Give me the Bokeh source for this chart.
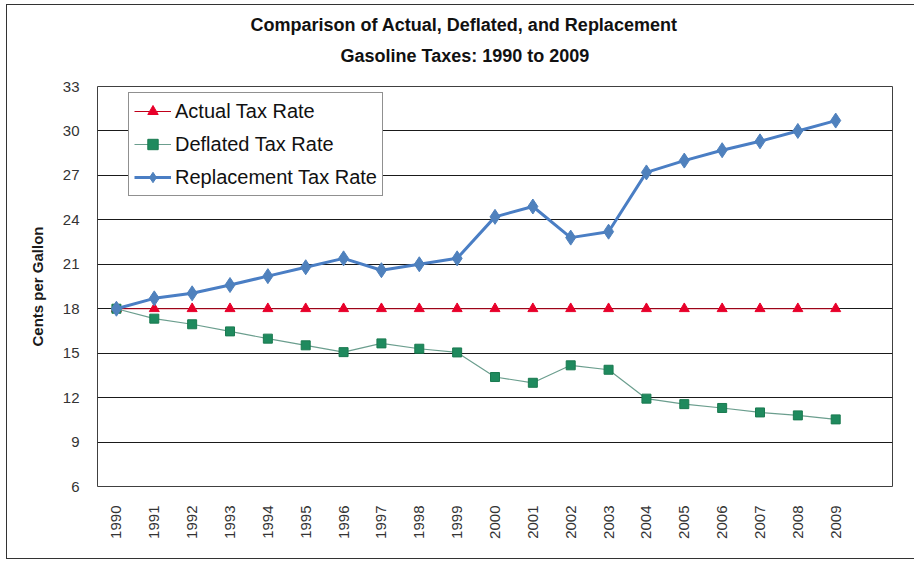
from bokeh.plotting import figure
from bokeh.models import Range1d, FixedTicker, Legend, Title
from bokeh.embed import file_html
from bokeh.resources import INLINE
from math import pi

years = ["1990", "1991", "1992", "1993", "1994", "1995", "1996", "1997", "1998", "1999",
         "2000", "2001", "2002", "2003", "2004", "2005", "2006", "2007", "2008", "2009"]
actual = [18.0] * 20
deflated = [18.0, 17.33, 16.95, 16.47, 15.98, 15.53, 15.07, 15.66, 15.3, 15.05,
            13.39, 13.0, 14.18, 13.88, 11.93, 11.56, 11.3, 11.0, 10.8, 10.53]
replacement = [18.0, 18.7, 19.04, 19.6, 20.2, 20.8, 21.4, 20.6, 21.0, 21.4,
               24.2, 24.9, 22.8, 23.2, 27.2, 28.0, 28.7, 29.3, 30.0, 30.7]
y_ticks = [6, 9, 12, 15, 18, 21, 24, 27, 30, 33]
title_lines = ["Comparison of Actual, Deflated, and Replacement", "Gasoline Taxes: 1990 to 2009"]

FONT = "Liberation Sans"
xs = list(range(len(years)))

p = figure(width=908, height=555, output_backend="svg", toolbar_location=None,
           x_range=Range1d(-0.5, 20.5), y_range=Range1d(6, 33),
           min_border_left=90, min_border_right=23, min_border_top=81, min_border_bottom=74)
p.styles = {"border-left": "1px solid #333333", "border-top": "1px solid #333333",
            "border-bottom": "1px solid #333333", "margin-left": "6px", "margin-top": "4px"}
p.outline_line_color = "#404040"
p.outline_line_width = 1
p.background_fill_color = "white"

p.xgrid.grid_line_color = None
p.ygrid.grid_line_color = "#1a1a1a"
p.ygrid.grid_line_width = 1
p.ygrid.ticker = FixedTicker(ticks=y_ticks)

p.yaxis.ticker = FixedTicker(ticks=y_ticks)
p.xaxis.ticker = FixedTicker(ticks=xs)
p.xaxis.major_label_overrides = {i: y for i, y in enumerate(years)}
p.xaxis.major_label_orientation = pi / 2
for ax in (p.xaxis, p.yaxis):
    ax.axis_line_color = None
    ax.major_tick_line_color = None
    ax.minor_tick_line_color = None
    ax.major_label_text_font = FONT
    ax.major_label_text_font_size = "15px"
    ax.major_label_text_color = "#333333"
p.xaxis.major_label_standoff = 13
p.yaxis.major_label_standoff = 12
p.yaxis.axis_label = "Cents per Gallon"
p.yaxis.axis_label_text_font = FONT
p.yaxis.axis_label_text_font_size = "15px"
p.yaxis.axis_label_text_font_style = "bold"
p.yaxis.axis_label_text_color = "#1a1a1a"
p.yaxis.axis_label_standoff = 14

r1 = p.line(xs, actual, line_color="#C0001A", line_width=1)
m1 = p.scatter(xs, actual, marker="triangle", size=10, fill_color="#E8002A", line_color="#E8002A")
r2 = p.line(xs, deflated, line_color="#6B9E8E", line_width=1.2)
m2 = p.scatter(xs, deflated, marker="square", size=9, fill_color="#1F8A5E", line_color="#1A7A50")
r3 = p.line(xs, replacement, line_color="#4A7EC4", line_width=3)
m3 = p.scatter(xs, replacement, marker="diamond", size=15, fill_color="#4F81BD", line_color="#4F81BD")

legend = Legend(items=[("Actual Tax Rate", [r1, m1]),
                       ("Deflated Tax Rate", [r2, m2]),
                       ("Replacement Tax Rate", [r3, m3])],
                location=(31, 290))
legend.label_text_font = FONT
legend.label_text_font_size = "20px"
legend.label_text_color = "#111111"
legend.glyph_width = 37
legend.glyph_height = 26
legend.label_height = 26
legend.spacing = 7
legend.padding = 5
legend.label_standoff = 4
legend.border_line_color = "#222222"
legend.border_line_width = 1
legend.background_fill_alpha = 1
legend.margin = 0
p.add_layout(legend, "center")

sub = Title(text=title_lines[1], align="left", offset=243, standoff=42,
            text_font=FONT, text_font_size="18px", text_font_style="bold", text_color="#111111")
p.add_layout(sub, "above")
p.title.text = title_lines[0]
p.title.align = "left"
p.title.offset = 153
p.title.standoff = -24
p.title.text_font = FONT
p.title.text_font_size = "18px"
p.title.text_font_style = "bold"
p.title.text_color = "#111111"

open("out.html", "w").write(file_html(p, INLINE))
